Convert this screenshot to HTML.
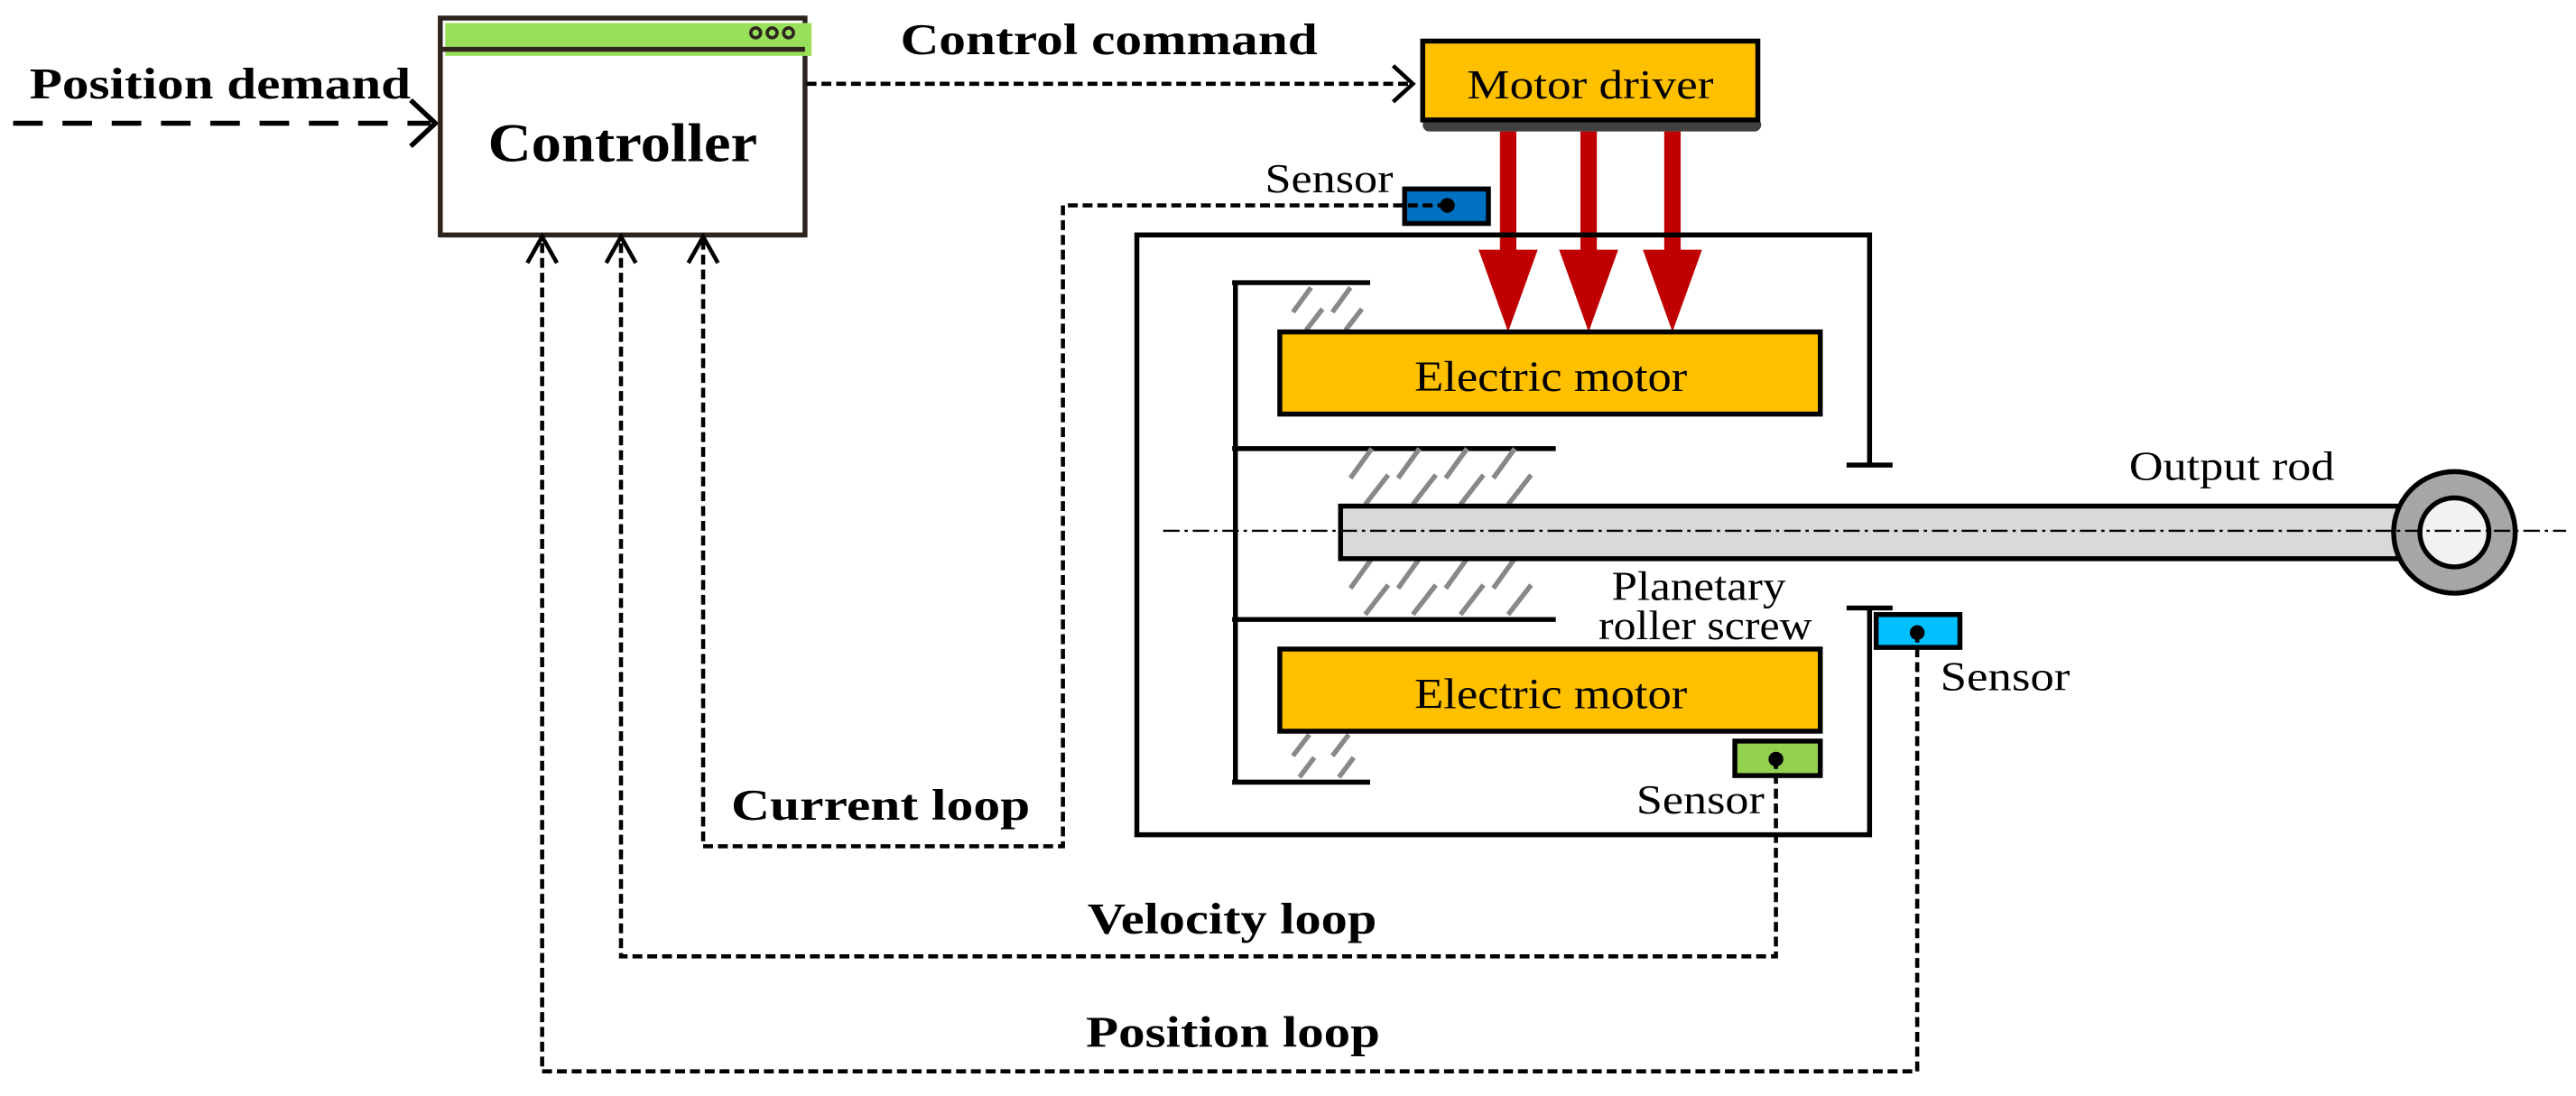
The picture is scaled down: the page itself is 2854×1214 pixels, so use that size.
<!DOCTYPE html>
<html><head><meta charset="utf-8"><style>
html,body{margin:0;padding:0;background:#fff;}
svg{display:block;}
text{font-family:"Liberation Serif",serif;}
</style></head><body>
<svg width="2854" height="1214" viewBox="0 0 1568 667" preserveAspectRatio="none" xmlns="http://www.w3.org/2000/svg">
<defs>
<marker id="open" viewBox="0 0 10 10" refX="9" refY="5" markerWidth="10" markerHeight="10" markerUnits="userSpaceOnUse" orient="auto">
<path d="M1,0 L9,5 L1,10" fill="none" stroke="#000" stroke-width="2"/>
</marker>
</defs>
<rect width="1568" height="667" fill="#fff"/>

<!-- Position demand -->
<text x="18" y="60" font-size="27" font-weight="bold" textLength="232" lengthAdjust="spacingAndGlyphs">Position demand</text>
<line x1="8" y1="75" x2="262" y2="75" stroke="#000" stroke-width="3" stroke-dasharray="18,12"/>
<path d="M250,61 L265,75 L250,89" fill="none" stroke="#000" stroke-width="3"/>

<!-- Controller -->
<rect x="268" y="11" width="222" height="132" fill="#fff" stroke="#2d241e" stroke-width="3"/>
<rect x="271" y="14" width="223" height="20" fill="#99e05a"/>
<line x1="268" y1="30" x2="490" y2="30" stroke="#2d241e" stroke-width="3"/>
<circle cx="460" cy="20" r="3" fill="none" stroke="#2d241e" stroke-width="2"/>
<circle cx="470" cy="20" r="3" fill="none" stroke="#2d241e" stroke-width="2"/>
<circle cx="480" cy="20" r="3" fill="none" stroke="#2d241e" stroke-width="2"/>
<text x="379" y="98" font-size="33" font-weight="bold" text-anchor="middle" textLength="164" lengthAdjust="spacingAndGlyphs">Controller</text>

<!-- Control command -->
<text x="548" y="33" font-size="27" font-weight="bold" textLength="254" lengthAdjust="spacingAndGlyphs">Control command</text>
<line x1="491" y1="51" x2="858" y2="51" stroke="#000" stroke-width="2.5" stroke-dasharray="6,3"/>
<path d="M848,40 L860,51 L848,62" fill="none" stroke="#000" stroke-width="2.5"/>

<!-- Motor driver -->
<rect x="866" y="72" width="206" height="8" rx="4" fill="#404040"/>
<rect x="866" y="25" width="204" height="48" fill="#ffc000" stroke="#000" stroke-width="3"/>
<text x="968" y="60" font-size="25" text-anchor="middle" textLength="150" lengthAdjust="spacingAndGlyphs">Motor driver</text>

<!-- red arrows -->
<g fill="#c00000">
<rect x="913" y="80" width="10" height="74"/><polygon points="900,152 936,152 918,202"/>
<rect x="962" y="80" width="10" height="74"/><polygon points="949,152 985,152 967,202"/>
<rect x="1013" y="80" width="10" height="74"/><polygon points="1000,152 1036,152 1018,202"/>
</g>

<!-- Housing -->
<g stroke="#000" stroke-width="3" fill="none">
<polyline points="1138,283 1138,143 692,143 692,508 1138,508 1138,370"/>
<line x1="1124" y1="283" x2="1152" y2="283"/>
<line x1="1124" y1="370" x2="1152" y2="370"/>
<line x1="752" y1="172" x2="752" y2="476"/>
<line x1="750" y1="172" x2="834" y2="172"/>
<line x1="750" y1="273" x2="947" y2="273"/>
<line x1="750" y1="377" x2="947" y2="377"/>
<line x1="750" y1="476" x2="834" y2="476"/>
</g>

<!-- hatches -->
<g stroke="#888" stroke-width="3">
<line x1="787" y1="190" x2="798" y2="175"/><line x1="811" y1="190" x2="822" y2="175"/>
<line x1="795" y1="201" x2="805" y2="188"/><line x1="819" y1="201" x2="829" y2="188"/>
<g id="hrow">
<line x1="822" y1="291" x2="835" y2="273"/><line x1="851" y1="291" x2="864" y2="273"/><line x1="880" y1="291" x2="893" y2="273"/><line x1="909" y1="291" x2="922" y2="273"/>
<line x1="831" y1="307" x2="845" y2="289"/><line x1="860" y1="307" x2="874" y2="289"/><line x1="889" y1="307" x2="903" y2="289"/><line x1="918" y1="307" x2="932" y2="289"/>
</g>
<g transform="translate(0,67)">
<line x1="822" y1="291" x2="835" y2="273"/><line x1="851" y1="291" x2="864" y2="273"/><line x1="880" y1="291" x2="893" y2="273"/><line x1="909" y1="291" x2="922" y2="273"/>
<line x1="831" y1="307" x2="845" y2="289"/><line x1="860" y1="307" x2="874" y2="289"/><line x1="889" y1="307" x2="903" y2="289"/><line x1="918" y1="307" x2="932" y2="289"/>
</g>
<line x1="787" y1="460" x2="797" y2="447"/><line x1="811" y1="460" x2="821" y2="447"/>
<line x1="791" y1="473" x2="800" y2="461"/><line x1="815" y1="473" x2="824" y2="461"/>
</g>

<!-- Electric motors -->
<rect x="779" y="202" width="329" height="50" fill="#ffc000" stroke="#000" stroke-width="3"/>
<text x="944" y="238" font-size="26" text-anchor="middle" textLength="166" lengthAdjust="spacingAndGlyphs">Electric motor</text>
<rect x="779" y="395" width="329" height="50" fill="#ffc000" stroke="#000" stroke-width="3"/>
<text x="944" y="431" font-size="26" text-anchor="middle" textLength="166" lengthAdjust="spacingAndGlyphs">Electric motor</text>

<!-- Output rod -->
<rect x="816" y="308" width="656" height="32" fill="#d9d9d9" stroke="#000" stroke-width="3"/>
<circle cx="1494" cy="324" r="37" fill="#a6a6a6" stroke="#000" stroke-width="3"/>
<circle cx="1494" cy="324" r="21" fill="#f2f2f2" stroke="#000" stroke-width="3"/>
<line x1="708" y1="323" x2="1562" y2="323" stroke="#000" stroke-width="1.3" stroke-dasharray="10,3,2,3"/>
<text x="1296" y="292" font-size="25" textLength="125" lengthAdjust="spacingAndGlyphs">Output rod</text>
<text x="1034" y="365" font-size="25" text-anchor="middle" textLength="106" lengthAdjust="spacingAndGlyphs">Planetary</text>
<text x="1038" y="389" font-size="25" text-anchor="middle" textLength="130" lengthAdjust="spacingAndGlyphs">roller screw</text>

<!-- Sensors -->
<text x="770" y="117" font-size="25" textLength="78" lengthAdjust="spacingAndGlyphs">Sensor</text>
<rect x="855" y="115" width="51" height="21" fill="#0070c0" stroke="#000" stroke-width="3"/>
<circle cx="881" cy="125" r="4.5" fill="#000"/>

<rect x="1142" y="374" width="51" height="20" fill="#00c0ff" stroke="#000" stroke-width="3"/>
<circle cx="1167" cy="385" r="4.5" fill="#000"/>
<text x="1181" y="420" font-size="25" textLength="79" lengthAdjust="spacingAndGlyphs">Sensor</text>

<rect x="1056" y="451" width="52" height="21" fill="#92d050" stroke="#000" stroke-width="3"/>
<circle cx="1081" cy="462" r="4.5" fill="#000"/>
<text x="996" y="495" font-size="25" textLength="78" lengthAdjust="spacingAndGlyphs">Sensor</text>

<!-- feedback loops -->
<g fill="none" stroke="#000" stroke-width="2.5" stroke-dasharray="6,3">
<polyline points="881,125 647,125 647,515 428,515 428,147"/>
<polyline points="1081,462 1081,582 378,582 378,147"/>
<polyline points="1167,385 1167,652 330,652 330,147"/>
</g>
<g fill="none" stroke="#000" stroke-width="2.5">
<path d="M419,160 L428,144 L437,160"/>
<path d="M369,160 L378,144 L387,160"/>
<path d="M321,160 L330,144 L339,160"/>
</g>
<text x="445" y="499" font-size="27" font-weight="bold" textLength="182" lengthAdjust="spacingAndGlyphs">Current loop</text>
<text x="662" y="568" font-size="27" font-weight="bold" textLength="176" lengthAdjust="spacingAndGlyphs">Velocity loop</text>
<text x="661" y="637" font-size="27" font-weight="bold" textLength="179" lengthAdjust="spacingAndGlyphs">Position loop</text>
</svg>
</body></html>
